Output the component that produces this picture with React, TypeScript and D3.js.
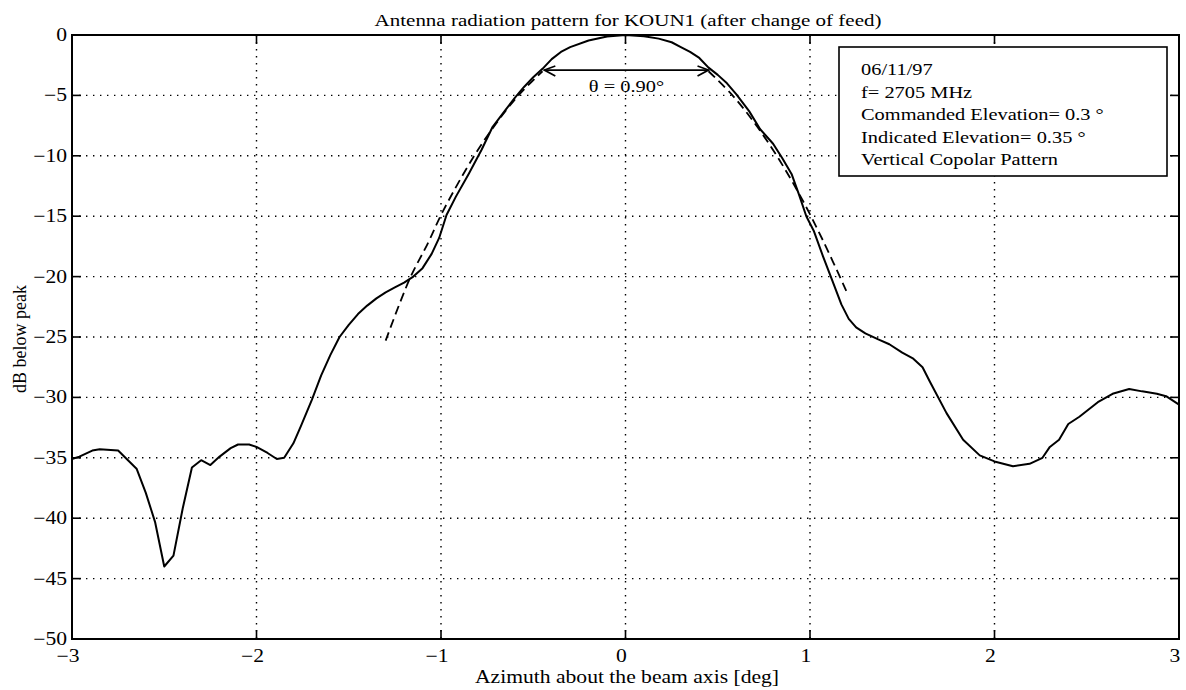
import React, { useRef, useEffect } from "react";
import * as d3 from "d3";

const width = 1186;
const height = 690;
const margin = { left: 72, right: 7, top: 35, bottom: 51 }; // plot box 72..1179 x 35..639
const serif = "'Liberation Serif', 'Times New Roman', serif";
const stretch = 1.2; // scanned figure text is wider than plain Times

// measured pattern (azimuth in deg, level in dB below peak)
const azimuth = [
  -3.0, -2.96, -2.89, -2.85, -2.75, -2.65, -2.6, -2.55, -2.5, -2.45, -2.4,
  -2.35, -2.3, -2.25, -2.2, -2.14, -2.1, -2.04, -2.0, -1.94, -1.89, -1.85,
  -1.8, -1.76, -1.7, -1.65, -1.6, -1.55, -1.5, -1.45, -1.4, -1.35, -1.3,
  -1.25, -1.2, -1.15, -1.1, -1.05, -1.01, -0.97, -0.92, -0.85, -0.78, -0.72,
  -0.65, -0.6, -0.55, -0.5, -0.45, -0.4, -0.35, -0.3, -0.2, -0.1, 0, 0.1,
  0.18, 0.25, 0.3, 0.35, 0.4, 0.45, 0.5, 0.55, 0.6, 0.67, 0.73, 0.8, 0.85,
  0.9, 0.94, 0.98, 1.02, 1.07, 1.12, 1.17, 1.21, 1.25, 1.3, 1.37, 1.43, 1.5,
  1.56, 1.61, 1.65, 1.74, 1.83, 1.92, 2.0, 2.1, 2.19, 2.26, 2.3, 2.35, 2.4,
  2.46, 2.56, 2.64, 2.73, 2.8, 2.88, 2.93, 3.0,
];
const level = [
  -35.1, -34.9, -34.4, -34.3, -34.4, -35.9, -37.9, -40.3, -44.0, -43.1, -39.2,
  -35.8, -35.2, -35.6, -34.9, -34.2, -33.9, -33.9, -34.1, -34.6, -35.1, -35.0,
  -33.8, -32.4, -30.2, -28.2, -26.5, -25.0, -24.0, -23.1, -22.4, -21.8, -21.3,
  -20.9, -20.5, -20.0, -19.3, -18.1, -16.8, -14.9, -13.4, -11.5, -9.5, -7.6,
  -6.2, -5.2, -4.3, -3.5, -2.8, -2.0, -1.4, -1.0, -0.45, -0.12, 0, -0.1,
  -0.3, -0.6, -1.0, -1.4, -1.9, -2.7, -3.3, -4.0, -4.9, -6.3, -7.8, -9.0,
  -10.2, -11.5, -13.2, -15.0, -16.2, -18.3, -20.3, -22.3, -23.5, -24.2,
  -24.7, -25.2, -25.6, -26.3, -26.8, -27.5, -28.7, -31.3, -33.5, -34.8,
  -35.3, -35.7, -35.5, -35.0, -34.1, -33.5, -32.2, -31.6, -30.4, -29.7,
  -29.3, -29.5, -29.7, -29.9, -30.6,
];

// dashed fitted main lobe, left and right flanks
const fitLeftAz = [-1.3, -1.17, -1.07, -0.99, -0.82, -0.7, -0.58, -0.45];
const fitLeftDb = [-25.3, -20.2, -17.2, -14.6, -10.0, -7.3, -5.0, -3.0];
const fitRightAz = [0.45, 0.58, 0.7, 0.82, 0.95, 1.07, 1.2];
const fitRightDb = [-3.0, -5.0, -7.3, -10.0, -13.4, -17.0, -21.3];

const beamWidthAz = [-0.44, 0.45];
const beamWidthDb = -2.9;

const xTicks = [-3, -2, -1, 0, 1, 2, 3];
const yTicks = [0, -5, -10, -15, -20, -25, -30, -35, -40, -45, -50];

const legendLines = [
  "06/11/97",
  "f= 2705 MHz",
  "Commanded Elevation= 0.3 °",
  "Indicated Elevation= 0.35 °",
  "Vertical Copolar Pattern",
];

const fmt = (v: number) => (v < 0 ? "\u2212" + Math.abs(v) : String(v));

const App = () => {
  const ref = useRef<SVGSVGElement>(null);

  useEffect(() => {
    if (!ref.current) return;
    const svg = d3.select(ref.current);
    svg.selectAll("*").remove();

    const x = d3.scaleLinear().domain([-3, 3]).range([margin.left, width - margin.right]);
    const y = d3.scaleLinear().domain([-50, 0]).range([height - margin.bottom, margin.top]);
    const [x0, x1] = x.range();
    const [yb, yt] = y.range();

    const stretched = (sel: d3.Selection<SVGTextElement, any, any, any>, tx: number, ty: number) =>
      sel.attr("transform", `translate(${tx},${ty}) scale(${stretch},1)`);

    // grid
    const grid = svg.append("g").attr("stroke", "#000").attr("stroke-width", 1.4).attr("stroke-dasharray", "1.4,5.6");
    xTicks.slice(1, -1).forEach((t) =>
      grid.append("line").attr("x1", x(t)).attr("x2", x(t)).attr("y1", yt).attr("y2", yb)
    );
    yTicks.slice(1, -1).forEach((t) =>
      grid.append("line").attr("x1", x0).attr("x2", x1).attr("y1", y(t)).attr("y2", y(t))
    );

    // ticks on all four sides, pointing in
    const tk = svg.append("g").attr("stroke", "#000").attr("stroke-width", 1.6);
    xTicks.forEach((t) => {
      tk.append("line").attr("x1", x(t)).attr("x2", x(t)).attr("y1", yb).attr("y2", yb - 9);
      tk.append("line").attr("x1", x(t)).attr("x2", x(t)).attr("y1", yt).attr("y2", yt + 9);
    });
    yTicks.forEach((t) => {
      tk.append("line").attr("x1", x0).attr("x2", x0 + 9).attr("y1", y(t)).attr("y2", y(t));
      tk.append("line").attr("x1", x1).attr("x2", x1 - 9).attr("y1", y(t)).attr("y2", y(t));
    });

    // box
    svg.append("rect").attr("x", x0).attr("y", yt).attr("width", x1 - x0).attr("height", yb - yt)
      .attr("fill", "none").attr("stroke", "#000").attr("stroke-width", 2);

    const text = svg.append("g").attr("font-family", serif).attr("fill", "#000");

    xTicks.forEach((t) => {
      stretched(text.append("text").attr("text-anchor", "middle").attr("font-size", 18).text(fmt(t)), x(t) - 4, yb + 23);
    });
    yTicks.forEach((t) => {
      stretched(text.append("text").attr("text-anchor", "end").attr("font-size", 18).text(fmt(t)), x0 - 5, y(t) + 6);
    });

    stretched(
      text.append("text").attr("text-anchor", "middle").attr("font-size", 17.5)
        .text("Antenna radiation pattern for KOUN1 (after change of feed)"),
      628, 26
    );
    stretched(
      text.append("text").attr("text-anchor", "middle").attr("font-size", 18)
        .text("Azimuth about the beam axis [deg]"),
      627, 683
    );
    text.append("text").attr("text-anchor", "middle").attr("font-size", 18)
      .attr("transform", `translate(26,339) rotate(-90)`).text("dB below peak");

    // measured pattern
    const line = d3.line<[number, number]>().x((d) => x(d[0])).y((d) => y(d[1])).curve(d3.curveLinear);
    const pts = azimuth.map((a, i) => [a, level[i]] as [number, number]);
    svg.append("path").attr("d", line(pts)).attr("fill", "none").attr("stroke", "#000")
      .attr("stroke-width", 2).attr("stroke-linejoin", "round");

    // dashed fit
    const dashLine = d3.line<[number, number]>().x((d) => x(d[0])).y((d) => y(d[1])).curve(d3.curveCatmullRom);
    [
      fitLeftAz.map((a, i) => [a, fitLeftDb[i]] as [number, number]),
      fitRightAz.map((a, i) => [a, fitRightDb[i]] as [number, number]),
    ].forEach((p) =>
      svg.append("path").attr("d", dashLine(p)).attr("fill", "none").attr("stroke", "#000")
        .attr("stroke-width", 1.8).attr("stroke-dasharray", "9,5")
    );

    // beam width marker
    const bx0 = x(beamWidthAz[0]);
    const bx1 = x(beamWidthAz[1]);
    const by = y(beamWidthDb);
    const bw = svg.append("g").attr("stroke", "#000").attr("stroke-width", 1.7).attr("fill", "none");
    bw.append("line").attr("x1", bx0).attr("x2", bx1).attr("y1", by).attr("y2", by);
    bw.append("path").attr("d", `M${bx0 + 11},${by - 4}L${bx0},${by}L${bx0 + 11},${by + 6}`);
    bw.append("path").attr("d", `M${bx1 - 11},${by - 4}L${bx1},${by}L${bx1 - 11},${by + 6}`);
    stretched(
      text.append("text").attr("text-anchor", "middle").attr("font-size", 17).text("\u03b8 = 0.90°"),
      (bx0 + bx1) / 2, by + 22
    );

    // legend box
    const lg = svg.append("g");
    lg.append("rect").attr("x", 839).attr("y", 47).attr("width", 328).attr("height", 129)
      .attr("fill", "#fff").attr("stroke", "#000").attr("stroke-width", 1.6);
    legendLines.forEach((s, i) => {
      stretched(
        lg.append("text").attr("font-family", serif).attr("font-size", 17).attr("fill", "#000").text(s),
        861, 75 + i * 22.5
      );
    });
  }, []);

  return (
    <svg
      ref={ref}
      width={width}
      height={height}
      style={{ display: "block", background: "#fff", position: "absolute", left: 0, top: 0 }}
    />
  );
};

export default App;
